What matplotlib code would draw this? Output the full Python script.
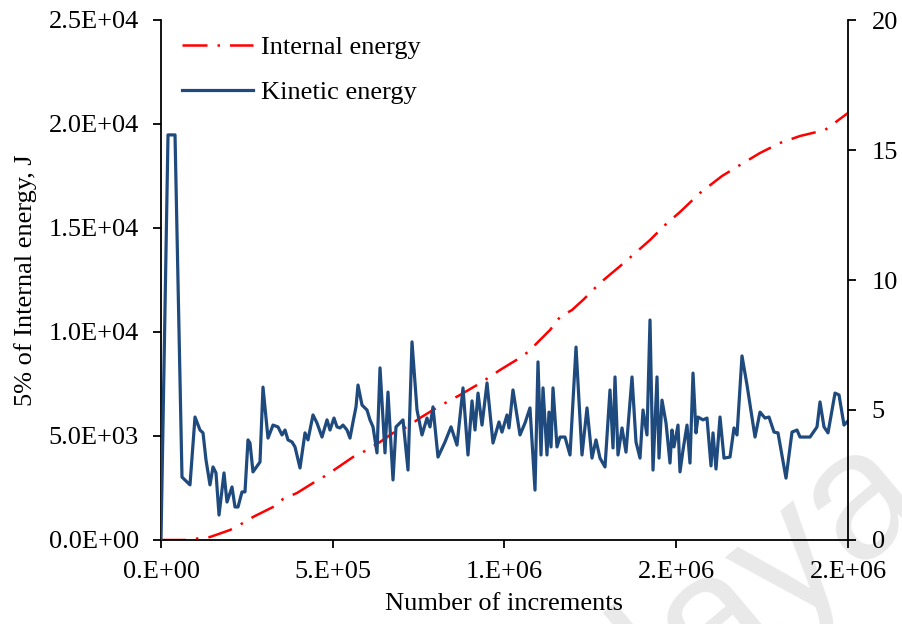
import matplotlib.pyplot as plt
import numpy as np

# Internal energy (5 %), J  -> left axis
ie_x = [0, 69900, 142600, 200900, 238700, 267800, 326100, 355200, 395900, 442500,
        477400, 512400, 559000, 593900, 637600, 675400, 716200, 754000, 791800, 832600,
        870400, 919900, 952000, 986900, 1039300, 1068400, 1094600, 1132400, 1161600, 1196500,
        1228500, 1278000, 1350800, 1423600, 1467300, 1510900, 1569100, 1633200, 1685600, 1743800,
        1802000, 1860300, 1933100, 2000000]
ie_y = [0, 0, 144, 481, 817, 1106, 1587, 1971, 2260, 2740,
        3077, 3462, 3990, 4279, 4712, 5144, 5433, 5865, 6250, 6635,
        6971, 7452, 7788, 8173, 8702, 9038, 9471, 10096, 10721, 11058,
        11538, 12356, 13365, 14423, 15144, 15769, 16683, 17500, 18029, 18606,
        19087, 19423, 19712, 20529]

# Kinetic energy -> right axis
ke_x = [0, 20400, 40800, 61100, 84400, 99000, 113500, 122300, 131000, 142600,
        151400, 160100, 168900, 183400, 192100, 206700, 215400, 224200, 235800, 244500,
        253300, 259100, 267800, 288200, 296900, 311500, 326100, 340600, 352300, 361000,
        369700, 381400, 390100, 404700, 419200, 427900, 442500, 454100, 468700, 483300,
        492000, 503600, 512400, 521100, 529800, 541500, 550200, 559000, 567700, 573500,
        585200, 599700, 608400, 617200, 628800, 637600, 652100, 660800, 675400, 684100,
        704500, 719100, 730700, 745300, 759800, 774400, 783100, 791800, 806400, 826800,
        844300, 861700, 879200, 893700, 905400, 914100, 922900, 934500, 949100, 966500,
        984000, 992700, 1007300, 1013100, 1024700, 1045100, 1059700, 1074200, 1088800, 1097500,
        1106300, 1112100, 1123700, 1129500, 1135400, 1141200, 1152800, 1161600, 1176100, 1190700,
        1208200, 1225600, 1240200, 1254700, 1266400, 1278000, 1292600, 1307100, 1315900, 1321700,
        1330400, 1342100, 1353700, 1371200, 1382800, 1394500, 1403200, 1414800, 1423600, 1432300,
        1444000, 1449800, 1458500, 1470200, 1481800, 1487600, 1493400, 1505100, 1510900, 1519700,
        1531300, 1540000, 1548800, 1557500, 1563300, 1577900, 1589500, 1601200, 1607000, 1615700,
        1627400, 1639000, 1656500, 1668100, 1676900, 1691400, 1706000, 1729300, 1743800, 1758400,
        1770000, 1784600, 1796200, 1819500, 1837000, 1851500, 1860300, 1889400, 1909800, 1918500,
        1930100, 1941800, 1962200, 1973800, 1988400, 2000000]
ke_y = [0, 15.58, 15.58, 2.42, 2.12, 4.73, 4.23, 4.12, 3.08, 2.12,
        2.81, 2.58, 0.96, 2.58, 1.46, 2.04, 1.27, 1.27, 1.85, 1.85,
        3.85, 3.73, 2.62, 3.00, 5.88, 3.92, 4.42, 4.35, 4.04, 4.23,
        3.85, 3.77, 3.58, 2.77, 4.12, 3.85, 4.81, 4.50, 3.96, 4.62,
        4.23, 4.69, 4.35, 4.31, 4.42, 4.23, 3.92, 4.54, 5.12, 5.96,
        5.19, 5.00, 4.62, 4.35, 3.35, 6.62, 3.35, 5.69, 2.31, 4.35,
        4.62, 2.69, 7.62, 5.00, 4.04, 4.69, 4.35, 5.12, 3.19, 3.77,
        4.35, 3.65, 5.85, 3.27, 5.35, 4.23, 5.65, 4.42, 6.04, 3.73,
        4.54, 4.15, 4.81, 4.31, 5.77, 4.04, 4.50, 5.08, 1.92, 6.85,
        3.27, 5.85, 3.27, 4.92, 3.58, 5.85, 3.58, 3.96, 3.96, 3.27,
        7.42, 3.27, 5.08, 3.15, 3.85, 3.15, 2.81, 5.77, 3.54, 6.27,
        3.27, 4.31, 3.38, 6.27, 3.77, 3.15, 5.00, 4.04, 8.46, 2.69,
        6.27, 3.15, 5.38, 4.50, 2.96, 4.23, 3.58, 4.42, 2.62, 3.46,
        4.42, 2.96, 6.42, 4.12, 4.73, 4.62, 4.69, 2.85, 4.12, 2.73,
        4.73, 3.15, 3.19, 4.31, 4.04, 7.08, 5.96, 3.96, 4.92, 4.69,
        4.73, 4.15, 4.12, 2.38, 4.15, 4.23, 3.96, 3.96, 4.35, 5.31,
        4.35, 4.12, 5.65, 5.58, 4.42, 4.58]

x_ticks = [0, 5e5, 1e6, 1.5e6, 2e6]
x_labels = ["0.E+00", "5.E+05", "1.E+06", "2.E+06", "2.E+06"]
left_ticks = [0, 5000, 10000, 15000, 20000, 25000]
right_ticks = [0, 5, 10, 15, 20]

plt.rcParams['font.family'] = ['Liberation Serif', 'DejaVu Serif']
plt.rcParams['font.size'] = 19

fig = plt.figure(figsize=(9.02, 6.24), dpi=100)
ax = fig.add_axes([161/902, 84/624, 687/902, 520/624])
ax.patch.set_alpha(0)
ax2 = ax.twinx()
ax2.patch.set_alpha(0)

# faint watermark behind everything
fig.text(1.03, 0.20, "Malaya", rotation=40, rotation_mode='anchor', fontsize=130,
         color='#e9e9e9', family='Liberation Sans', ha='right', va='baseline', zorder=-5)

red, = ax.plot(ie_x, ie_y, color='#ff0000', lw=1.8, dashes=(10, 4, 1, 4),
               label="Internal energy")
blue, = ax2.plot(ke_x, ke_y, color='#1f4a7e', lw=2.3, solid_joinstyle='round',
                 label="Kinetic energy")

ax.set_xlim(0, 2e6)
ax.set_ylim(0, 25000)
ax2.set_ylim(0, 20)

ax.set_xticks(x_ticks)
ax.set_xticklabels(x_labels)
ax.set_yticks(left_ticks)
ax.set_yticklabels([f"{v:.1E}" for v in left_ticks])
ax2.set_yticks(right_ticks)

for a in (ax, ax2):
    a.spines['top'].set_visible(False)
    for s in a.spines.values():
        s.set_linewidth(1.3)
ax.spines['right'].set_visible(False)
ax2.spines['left'].set_visible(False)
ax2.spines['bottom'].set_visible(False)

ax.tick_params(axis='x', direction='out', length=6, width=1.3, pad=9)
ax.tick_params(axis='y', direction='out', length=6, width=1.3, pad=10)
ax2.tick_params(axis='y', direction='out', length=6, width=1.3, pad=11)

ax.set_xlabel("Number of increments", labelpad=7)
ax.set_ylabel("5% of Internal energy, J", labelpad=8)

ax.legend(handles=[red, blue], loc='upper left', frameon=False,
          handlelength=2.7, handletextpad=0.3, labelspacing=0.8,
          borderaxespad=0.2, bbox_to_anchor=(0.007, 1.0))

fig.savefig("out.png", dpi=100)
